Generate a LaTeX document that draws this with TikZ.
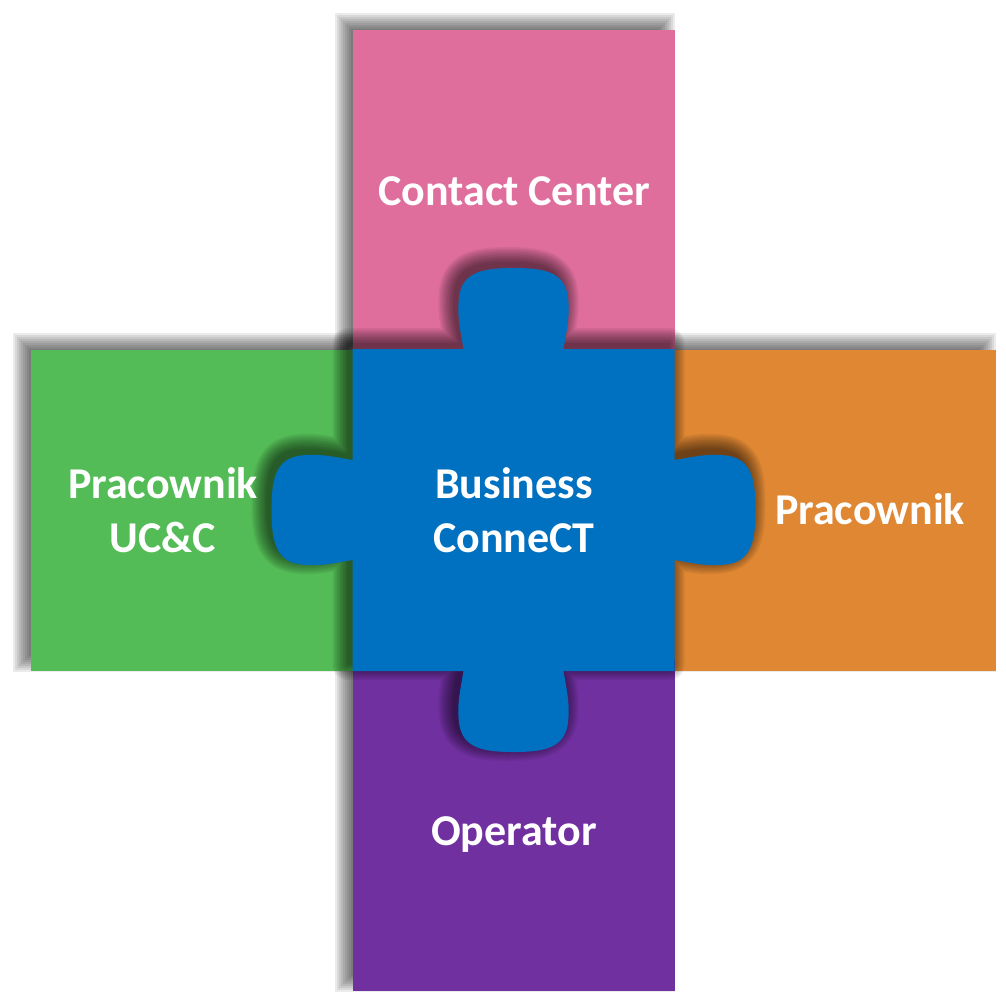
\documentclass[tikz,border=0pt]{standalone}
\usepackage{fontspec}
\setmainfont{Carlito}
\definecolor{cpink}{HTML}{DF6E9D}
\definecolor{cgreen}{HTML}{53BC56}
\definecolor{corange}{HTML}{DF8733}
\definecolor{cpurple}{HTML}{7030A0}
\definecolor{cblue}{HTML}{0070C0}
\newcommand\bluepath{(352.5,349) -- (463.5,349)
 .. controls (460.5,331) and (457.5,319) .. (458.5,303)
 .. controls (459.5,273) and (479.5,268) .. (513.5,268)
 .. controls (547.5,268) and (567.5,273) .. (568.5,303)
 .. controls (569.5,319) and (566.5,331) .. (563.5,349)
 -- (674.5,349) -- (674.5,460)
 .. controls (692.5,457) and (704.5,454) .. (720.5,455)
 .. controls (750.5,456) and (755.5,476) .. (755.5,510)
 .. controls (755.5,544) and (750.5,564) .. (720.5,565)
 .. controls (704.5,566) and (692.5,563) .. (674.5,560)
 -- (674.5,671) -- (563.5,671)
 .. controls (566.5,689) and (569.5,701) .. (568.5,717)
 .. controls (567.5,747) and (547.5,752) .. (513.5,752)
 .. controls (479.5,752) and (459.5,747) .. (458.5,717)
 .. controls (457.5,701) and (460.5,689) .. (463.5,671)
 -- (352.5,671) -- (352.5,560)
 .. controls (334.5,563) and (322.5,566) .. (306.5,565)
 .. controls (276.5,564) and (271.5,544) .. (271.5,510)
 .. controls (271.5,476) and (276.5,456) .. (306.5,455)
 .. controls (322.5,454) and (334.5,457) .. (352.5,460) -- cycle}
% soft shadow of a rectangle: stacked rectangles grown from -9 to +9
\newcommand\rectshadow[4]{%
 \begin{scope}[shift={(-9,-8)}]
  \foreach \e in {-9,-7,-5,-3,-1,1,3,5,7,9}{%
   \fill[black, opacity=0.08] ({#1-\e},{#2-\e}) rectangle ({#3+\e},{#4+\e});}
 \end{scope}}
% soft shadow of a path: stacked dilations
\newcommand\pathshadow[3]{%
 \begin{scope}[shift={(#2,#3)}]
  \foreach \w in {0.1,3,6,9,12,15,18,21,24,27,30}{%
   \begin{scope}[transparency group, opacity=0.06]
    \filldraw[black, line width=\w pt, line join=round] #1;
   \end{scope}}
 \end{scope}}
\begin{document}
\begin{tikzpicture}[x=1pt,y=-1pt,
  label/.style={text=white, font=\fontsize{44}{54}\selectfont\bfseries, inner sep=0pt, anchor=base, align=center}]
\useasboundingbox (0,0) rectangle (1006,1001);
% shadows of the outer pieces
\rectshadow{352.5}{30}{675}{360}
\rectshadow{31}{350}{360}{671}
\rectshadow{665}{350}{996}{671}
\rectshadow{353}{660}{675}{991}
% outer pieces
\fill[cpink] (352.5,30) rectangle (675,360);
\fill[cgreen] (31,350) rectangle (360,671);
\fill[corange] (665,350) rectangle (996,671);
\fill[cpurple] (353,660) rectangle (675,991);
% central puzzle piece
\pathshadow{\bluepath}{-5}{-6}
\fill[cblue] \bluepath;
% labels (base = baseline of the last line)
\node[label] (contact) at (514,205) {Contact Center};
\node[label] (business) at (514,552) {Business\\ConneCT};
\node[label] (ucc) at (163,552) {Pracownik\\UC\&C};
\node[label] (pracownik) at (870,524) {Pracownik};
\node[label] (operator) at (514,845) {Operator};
\end{tikzpicture}
\end{document}
